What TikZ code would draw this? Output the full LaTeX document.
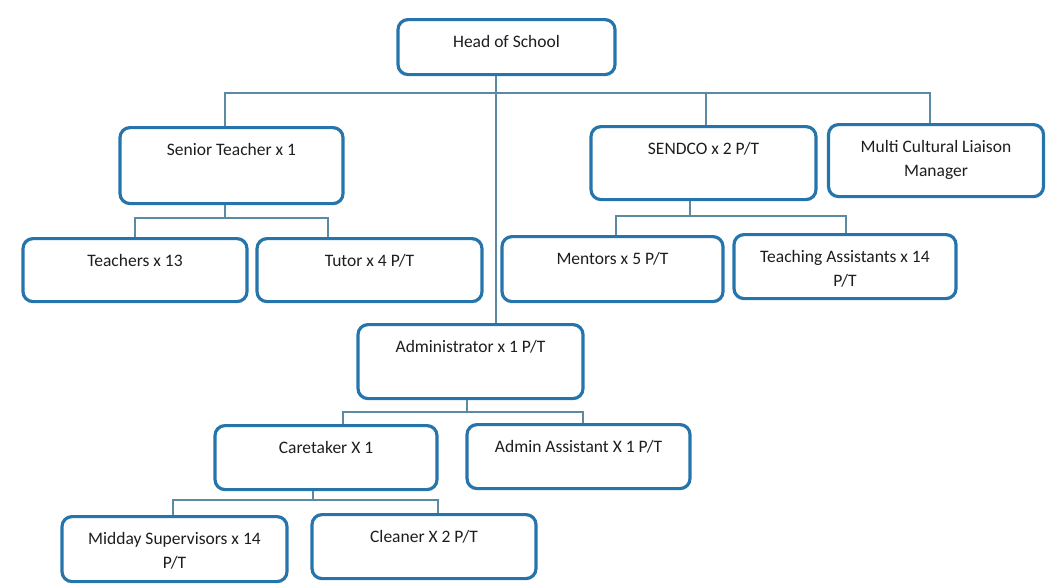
\documentclass[tikz,border=0pt]{standalone}
\usepackage{fontspec}
\setmainfont{Carlito}
\usetikzlibrary{
    positioning     % relative placement, loaded for the node anchors
}
\definecolor{boxblue}{RGB}{38,116,172}
\definecolor{linkblue}{RGB}{92,138,165}
\definecolor{inkgray}{RGB}{30,30,30}
\newcommand{\px}{0.6pt}
\tikzset{
    post/.style 2 args={
        draw=boxblue, line width=1.9pt, rounded corners=6pt,
        fill=white, text=inkgray, anchor=north,
        align=center, inner xsep=4pt, inner ysep=0pt,
        font=\fontsize{10.5}{14.5}\selectfont,
        minimum width=#1*\px,
        text height=16.8pt, text depth=#2*\px-16.8pt
    },
    post two/.style 2 args={
        post={#1}{#2},
        text height=31.3pt, text depth=#2*\px-31.3pt
    },
    link/.style={draw=linkblue, line width=0.9pt}
}

\begin{document}
\begin{tikzpicture}[x=\px, y=-\px]
        \useasboundingbox (0,0) rectangle (1047,583);

        % the boxes, placed by the middle of their top edge
        \node[post={217}{55}] (head) at (506.5,18) {Head of School};
        \node[post={223}{76}] (senior) at (231.5,126) {Senior Teacher x 1};
        \node[post={225}{73}] (sendco) at (703.5,125) {SENDCO x 2 P/T};
        \node[post two={215}{72}] (liaison) at (936,123) {Multi Cultural Liaison\\Manager};
        \node[post={224}{63}] (teachers) at (135,237) {Teachers x 13};
        \node[post={225}{63}] (tutor) at (369.5,237) {Tutor x 4 P/T};
        \node[post={221}{65}] (mentors) at (612.5,235) {Mentors x 5 P/T};
        \node[post two={222}{64}] (assistants) at (845,233) {Teaching Assistants x 14\\P/T};
        \node[post={225}{74}] (admin) at (470.5,323) {Administrator x 1 P/T};
        \node[post={222}{64}] (caretaker) at (326,424) {Caretaker X 1};
        \node[post={223}{64}] (adminassist) at (578.5,423) {Admin Assistant X 1 P/T};
        \node[post two={225}{65}] (midday) at (174.5,515) {Midday Supervisors x 14\\P/T};
        \node[post={224}{64}] (cleaner) at (424,513) {Cleaner X 2 P/T};

        % where the joining lines turn
        \coordinate (trunk) at (496,93);
        \coordinate (topleft) at (225,93);
        \coordinate (topmid) at (706,93);
        \coordinate (topright) at (930,93);
        \coordinate (seniorbar) at (225,218);
        \coordinate (seniorleft) at (135,218);
        \coordinate (seniorright) at (328,218);
        \coordinate (sendcobar) at (690,216);
        \coordinate (sendcoleft) at (616,216);
        \coordinate (sendcoright) at (846,216);
        \coordinate (adminbar) at (467,412);
        \coordinate (adminleft) at (343,412);
        \coordinate (adminright) at (583,412);
        \coordinate (carebar) at (313,500);
        \coordinate (careleft) at (173,500);
        \coordinate (careright) at (438,500);

        \draw[link] (head.south -| trunk) -- (admin.north -| trunk);
        \draw[link] (senior.north -| topleft) -- (topleft) -- (topright) -- (liaison.north -| topright);
        \draw[link] (topmid) -- (sendco.north -| topmid);

        \draw[link] (senior.south -| seniorbar) -- (seniorbar);
        \draw[link] (teachers.north -| seniorleft) -- (seniorleft) -- (seniorright) -- (tutor.north -| seniorright);

        \draw[link] (sendco.south -| sendcobar) -- (sendcobar);
        \draw[link] (mentors.north -| sendcoleft) -- (sendcoleft) -- (sendcoright) -- (assistants.north -| sendcoright);

        \draw[link] (admin.south -| adminbar) -- (adminbar);
        \draw[link] (caretaker.north -| adminleft) -- (adminleft) -- (adminright) -- (adminassist.north -| adminright);

        \draw[link] (caretaker.south -| carebar) -- (carebar);
        \draw[link] (midday.north -| careleft) -- (careleft) -- (careright) -- (cleaner.north -| careright);
    \end{tikzpicture}
\end{document}
